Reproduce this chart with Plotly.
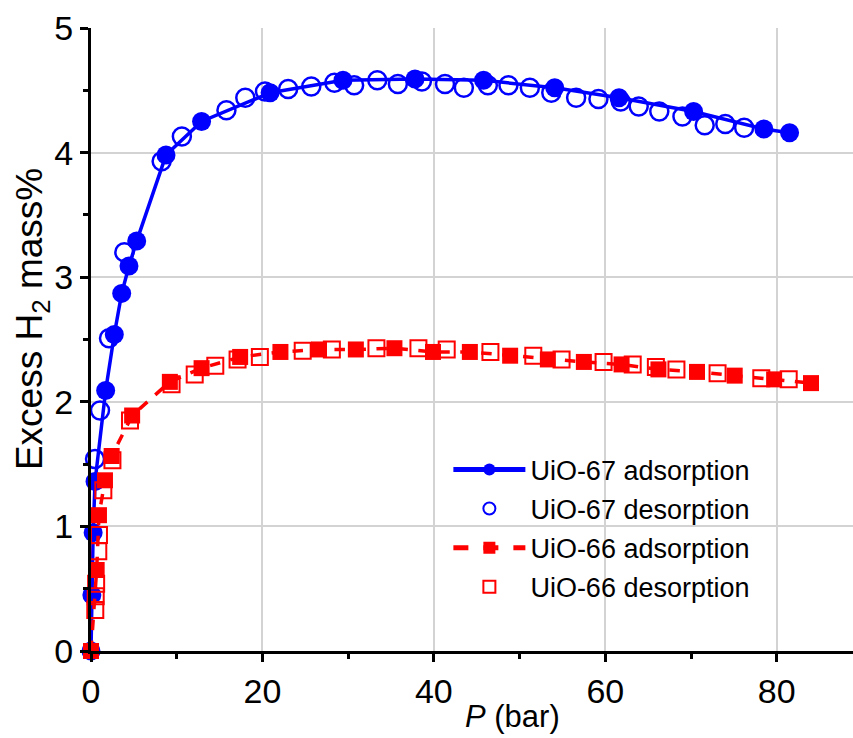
import plotly.graph_objects as go

# UiO-67 adsorption (filled circles, solid line)
p67_ads = [0, 0.1, 0.25, 0.47, 1.71, 2.72, 3.58, 4.43, 5.33, 8.75, 12.9, 20.9, 29.4, 37.8,
           45.8, 54.1, 61.6, 70.3, 78.5, 81.5]
y67_ads = [0, 0.45, 0.95, 1.36, 2.09, 2.54, 2.87, 3.09, 3.29, 3.98, 4.25, 4.48, 4.58, 4.59,
           4.58, 4.52, 4.44, 4.33, 4.19, 4.16]

# UiO-67 desorption (open circles)
p67_des = [0.47, 1.05, 2.1, 3.89, 8.24, 10.6, 15.8, 18.0, 20.3, 23.0, 25.7, 28.4, 30.7, 33.4,
           35.8, 38.6, 41.3, 43.5, 46.3, 48.7, 51.2, 53.7, 56.6, 59.2, 61.8, 63.9, 66.3, 69.0,
           71.6, 74.0, 76.2]
y67_des = [1.54, 1.93, 2.51, 3.20, 3.93, 4.13, 4.34, 4.44, 4.49, 4.51, 4.53, 4.56, 4.54, 4.58,
           4.55, 4.57, 4.55, 4.52, 4.54, 4.54, 4.52, 4.48, 4.44, 4.43, 4.41, 4.37, 4.33, 4.29,
           4.22, 4.23, 4.20]

# UiO-66 adsorption (filled squares, dashed line)
p66_ads = [0, 0.66, 0.93, 1.63, 2.41, 4.8, 9.2, 12.9, 17.4, 22.1, 26.6, 30.9, 35.4, 39.9,
           44.2, 48.9, 53.3, 57.5, 61.9, 66.2, 70.7, 75.1, 79.7, 84.0]
y66_ads = [0, 0.65, 1.09, 1.37, 1.565, 1.89, 2.16, 2.27, 2.36, 2.40, 2.42, 2.42, 2.43, 2.40,
           2.40, 2.37, 2.34, 2.32, 2.30, 2.26, 2.24, 2.21, 2.18, 2.15]

# UiO-66 desorption (open squares)
p66_des = [0.5, 0.55, 0.6, 0.85, 0.93, 1.44, 2.5, 4.55, 9.4, 12.1, 14.5, 17.1, 19.7, 24.7,
           28.1, 33.3, 38.2, 41.5, 46.6, 51.6, 54.9, 59.8, 63.2, 65.9, 68.3, 73.1, 78.2, 81.4]
y66_des = [0.33, 0.44, 0.54, 0.80, 0.93, 1.29, 1.53, 1.85, 2.14, 2.22, 2.29, 2.34, 2.36, 2.41,
           2.42, 2.43, 2.43, 2.42, 2.40, 2.37, 2.34, 2.32, 2.30, 2.28, 2.26, 2.23, 2.19, 2.18]

x_ticks = [0, 20, 40, 60, 80]
y_ticks = [0, 1, 2, 3, 4, 5]

BLUE = "#0000FF"
RED = "#FF0000"
FONT = "Liberation Sans, Arial"

fig = go.Figure()
fig.add_trace(go.Scatter(
    x=p67_ads, y=y67_ads, mode="lines+markers", name="UiO-67 adsorption",
    line=dict(color=BLUE, width=3.5),
    marker=dict(symbol="circle", size=19, color=BLUE, line=dict(width=0)),
    cliponaxis=False, legendgroup="a"))
fig.add_trace(go.Scatter(
    x=p67_des, y=y67_des, mode="markers", name="UiO-67 desorption",
    marker=dict(symbol="circle-open", size=18, color=BLUE, line=dict(width=2.5, color=BLUE)),
    cliponaxis=False, legendgroup="b"))
fig.add_trace(go.Scatter(
    x=p66_ads, y=y66_ads, mode="lines+markers", name="UiO-66 adsorption",
    line=dict(color=RED, width=3.5, dash="dash"),
    marker=dict(symbol="square", size=16, color=RED, line=dict(width=0)),
    cliponaxis=False, legendgroup="c"))
fig.add_trace(go.Scatter(
    x=p66_des, y=y66_des, mode="markers", name="UiO-66 desorption",
    marker=dict(symbol="square-open", size=16, color=RED, line=dict(width=2, color=RED)),
    cliponaxis=False, legendgroup="d"))

axis_common = dict(
    showline=True, linecolor="black", linewidth=3, mirror=False,
    ticks="outside", ticklen=8, tickwidth=3, tickcolor="black",
    showgrid=True, gridcolor="#d3d3d3", gridwidth=1.5, zeroline=False,
    tickfont=dict(family=FONT, size=34, color="black"),
)

fig.update_layout(
    width=853, height=738,
    margin=dict(l=91, r=0, t=28, b=87),
    paper_bgcolor="white", plot_bgcolor="white",
    font=dict(family=FONT, color="black"),
    xaxis=dict(
        range=[0, 88.9], tickvals=x_ticks,
        minor=dict(tickvals=[10, 30, 50, 70], ticks="outside", ticklen=5, tickwidth=3,
                   tickcolor="black", showgrid=False),
        **axis_common),
    yaxis=dict(
        range=[0, 5], tickvals=y_ticks,
        minor=dict(tickvals=[0.5, 1.5, 2.5, 3.5, 4.5], ticks="outside", ticklen=5, tickwidth=3,
                   tickcolor="black", showgrid=False),
        **axis_common),
    legend=dict(
        x=0.469, y=0.33, xanchor="left", yanchor="top",
        bgcolor="rgba(0,0,0,0)", borderwidth=0,
        font=dict(size=27, family=FONT, color="black"),
        itemsizing="constant", tracegroupgap=1, itemwidth=72,
    ),
    showlegend=True,
    annotations=[
        dict(text="<i>P</i> (bar)", xref="paper", yref="paper", x=0.5525, y=-0.105,
             xanchor="center", yanchor="middle", showarrow=False,
             font=dict(size=31, family=FONT, color="black")),
        dict(text="Excess H<sub>2</sub> mass%", xref="paper", yref="paper",
             x=-0.078, y=0.5, yshift=20, xanchor="center", yanchor="middle",
             textangle=-90, showarrow=False,
             font=dict(size=37, family=FONT, color="black")),
    ],
)

fig.write_html("out.html")
